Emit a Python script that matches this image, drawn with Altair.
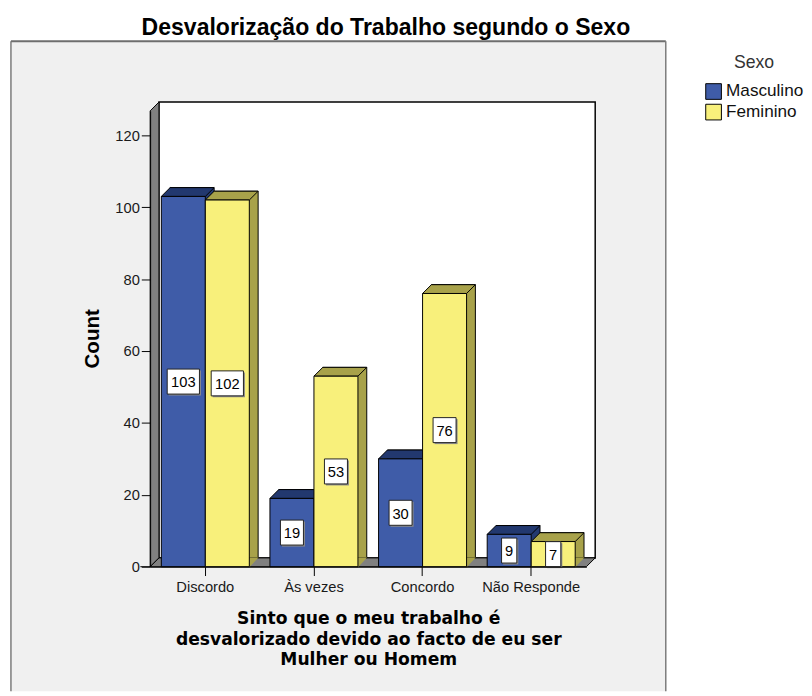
import altair as alt
import pandas as pd

# ---------------- data ----------------
categories = ["Discordo", "Às vezes", "Concordo", "Não Responde"]
sexes = ["Masculino", "Feminino"]
masculino = [103, 19, 30, 9]
feminino = [102, 53, 76, 7]
y_ticks = [0, 20, 40, 60, 80, 100, 120]

rows = []
for c, m, f in zip(categories, masculino, feminino):
    rows.append({"Resposta": c, "Sexo": "Masculino", "Count": m})
    rows.append({"Resposta": c, "Sexo": "Feminino", "Count": f})
df = pd.DataFrame(rows)
dummy = pd.DataFrame({"k": [0]})

# ---------------- style ----------------
FONT = "Liberation Sans"
front_colors = ["#3f5ca8", "#f8f07b"]
dark_colors = ["#22386f", "#a8a24a"]
W, H = 445, 465
D = 9          # 3D depth in px
ymax = 126.8
P_IN, P_OUT = 0.19, 0.103
STEP = W / (4 - P_IN + 2 * P_OUT)
HB = round(STEP * (1 - P_IN) / 4, 2)   # half bar width in px

xscale = alt.Scale(domain=categories, paddingInner=P_IN, paddingOuter=P_OUT)
yscale = alt.Scale(domain=[0, ymax], nice=False)

x_axis = alt.Axis(
    title=["Sinto que o meu trabalho é", "desvalorizado devido ao facto de eu ser",
           "Mulher ou Homem"],
    titleFontSize=17.5, titleFontWeight="bold", titleFont="DejaVu Sans", titleColor="black",
    titleLineHeight=21, titleBaseline="top", titleY=44,
    labelFontSize=15, labelFont=FONT, labelColor="#1a1a1a", labelAngle=0,
    labelPadding=4, tickSize=9, tickColor="black", domainColor="black",
    bandPosition=0.5, grid=False, zindex=1,
)
y_axis = alt.Axis(
    title="Count", titleFontSize=21, titleFontWeight="bold", titleFont=FONT,
    titleColor="black", titleBaseline="alphabetic", titleX=-53, titleY=232,
    values=y_ticks, labelFontSize=15, labelFont=FONT, labelColor="#1a1a1a",
    labelPadding=2, tickSize=9, tickColor="black", domainColor="black",
    grid=False, zindex=1,
)
legend = alt.Legend(
    title="Sexo", orient="none", legendX=566, legendY=-57.5,
    titleFontSize=18, titleFontWeight="normal", titleFont=FONT,
    titleColor="#333333", titleAnchor="middle", titlePadding=11,
    labelFontSize=17.5, labelFont=FONT, labelColor="#111111",
    symbolType="square", symbolSize=256, symbolStrokeColor="black",
    symbolStrokeWidth=1, symbolOpacity=1, labelOffset=4, rowPadding=0,
)

# ---------------- decorations ----------------
panel = alt.Chart(dummy).mark_rect(fill="#f0f0f0").encode(
    x=alt.value(-142), x2=alt.value(526), y=alt.value(-71), y2=alt.value(592))
border_l = alt.Chart(dummy).mark_rule(color="#7a7a7a", strokeWidth=1.5).encode(
    x=alt.value(-142), y=alt.value(-71), y2=alt.value(592))
border_t = alt.Chart(dummy).mark_rule(color="#6e6e6e", strokeWidth=2).encode(
    x=alt.value(-142), x2=alt.value(526), y=alt.value(-71))
border_r = alt.Chart(dummy).mark_rule(color="#7a7a7a", strokeWidth=1.5).encode(
    x=alt.value(526), y=alt.value(-71), y2=alt.value(592))

back_wall = alt.Chart(dummy).mark_rect(fill="white", stroke="black", strokeWidth=1.5).encode(
    x=alt.value(D), x2=alt.value(W + D), y=alt.value(-D), y2=alt.value(H - D))
left_wall = alt.Chart(dummy).mark_point(
    shape=f"M0,0L{D},{-D}L{D},{H - D}L0,{H}Z", size=4, filled=True,
    fill="#808080", stroke="black", strokeWidth=1, opacity=1,
).encode(x=alt.value(0), y=alt.value(0))
floor = alt.Chart(dummy).mark_point(
    shape=f"M0,{H}L{D},{H - D}L{W + D},{H - D}L{W},{H}Z", size=4, filled=True,
    fill="#808080", stroke="black", strokeWidth=1, opacity=1,
).encode(x=alt.value(0), y=alt.value(0))
axis_ext = alt.Chart(dummy).mark_rule(color="black", strokeWidth=1).encode(
    x=alt.value(-10), x2=alt.value(0), y=alt.value(H))

# ---------------- bars (one set of layers per sex) ----------------
box_half_w = {1: 0.61, 2: 0.92, 3: 1.29}
sides, tris, tops, fronts, boxes, texts = [], [], [], [], [], []
for i, s in enumerate(sexes):
    c = -HB if i == 0 else HB
    src = alt.Chart(df).transform_filter(alt.datum.Sexo == s).transform_calculate(
        half="datum.Count / 2",
        digits="length(toString(datum.Count))",
    )
    xenc = alt.X("Resposta:N", scale=xscale, sort=categories, axis=x_axis)
    ycnt = alt.Y("Count:Q", scale=yscale, axis=y_axis)
    yhalf = alt.Y("half:Q", scale=yscale, axis=y_axis)
    sides.append(src.mark_bar(
        width={"band": 0.5}, xOffset=c + D, yOffset=-D, y2Offset=-D,
        fill=dark_colors[i], stroke="black", strokeWidth=1,
    ).encode(x=xenc, y=ycnt))
    tris.append(src.mark_point(
        shape=f"M{HB},0.5L{HB + D + 0.5},{-D - 0.5}L{HB},{-D - 0.5}Z", size=4,
        filled=True, fill=dark_colors[i], strokeWidth=0, opacity=1, xOffset=c,
    ).encode(x=xenc, y=alt.value(H)))
    tops.append(src.mark_point(
        shape=f"M{-HB},0L{-HB + D},{-D}L{HB + D},{-D}L{HB},0Z", size=4,
        filled=True, fill=dark_colors[i], stroke="black", strokeWidth=1,
        opacity=1, xOffset=c,
    ).encode(x=xenc, y=ycnt))
    fronts.append(src.mark_bar(
        width={"band": 0.5}, xOffset=c, stroke="black", strokeWidth=1,
    ).encode(
        x=xenc, y=ycnt,
        color=alt.Color("Sexo:N", scale=alt.Scale(domain=sexes, range=front_colors),
                        legend=legend),
    ))
    for nd, hw in box_half_w.items():
        # soft shadow + white box
        boxes.append(src.transform_filter(alt.datum.digits == nd).mark_point(
            shape=f"M{-hw + 0.12},-0.88L{hw + 0.12},-0.88L{hw + 0.12},1.12L{-hw + 0.12},1.12Z",
            filled=True, fill="#8a8a8a", strokeWidth=0, size=650,
            opacity=1, xOffset=c,
        ).encode(x=xenc, y=yhalf))
        boxes.append(src.transform_filter(alt.datum.digits == nd).mark_point(
            shape=f"M{-hw},-1L{hw},-1L{hw},1L{-hw},1Z",
            filled=True, fill="white", stroke="#222222", strokeWidth=1, size=650,
            opacity=1, xOffset=c,
        ).encode(x=xenc, y=yhalf))
    texts.append(src.mark_text(
        fontSize=15, font=FONT, color="black", baseline="middle", dy=1, xOffset=c,
    ).encode(x=xenc, y=yhalf, text="Count:Q"))

chart = alt.layer(
    panel, border_l, border_t, border_r, back_wall, left_wall, floor, axis_ext,
    *sides, *tris, *tops, *fronts, *boxes, *texts,
).properties(
    width=W, height=H,
    padding={"left": 2, "top": 1, "right": 0, "bottom": 0},
    title=alt.TitleParams(
        "Desvalorização do Trabalho segundo o Sexo", fontSize=23.5, fontWeight="bold",
        font=FONT, color="black", anchor="middle", frame="group", dx=18, offset=1,
    ),
).configure_view(strokeWidth=0)

chart.save("out.html", embed_options={"renderer": "svg", "actions": False})
